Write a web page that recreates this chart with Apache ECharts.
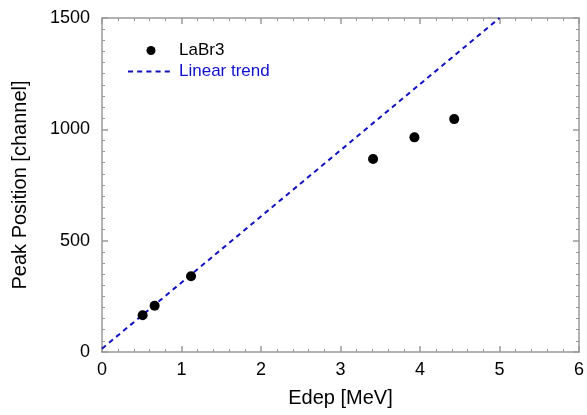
<!DOCTYPE html>
<html>
<head>
<meta charset="utf-8">
<script src="https://cdn.jsdelivr.net/npm/echarts@6/dist/echarts.min.js"></script>
<style>
  html, body { margin: 0; padding: 0; background: #fff; }
  #chart { width: 587px; height: 415px; }
</style>
</head>
<body>
<div id="chart"></div>
<script>
// measured peaks (LaBr3)
var edep = [0.511, 0.662, 1.12, 3.41, 3.93, 4.43]
var peakPos = [165, 208, 340, 867, 964, 1046]
// linear trend end points
var trendX = [0, 5]
var trendY = [15, 1500]

var axisGray = '#9a9a9a'
var font = '"Liberation Sans", Arial, sans-serif'

function frameAxis(extra) {
  var base = {
    axisLine: { show: true, onZero: false, lineStyle: { color: axisGray, width: 1.5 } },
    axisTick: { show: true, inside: true, length: 6, lineStyle: { color: axisGray, width: 1.5 } },
    splitLine: { show: false },
    minorSplitLine: { show: false }
  }
  return Object.assign(base, extra)
}

var xMinor = { show: true, splitNumber: 5, length: 3, lineStyle: { color: axisGray, width: 1 } }
var yMinor = { show: true, splitNumber: 10, length: 3, lineStyle: { color: axisGray, width: 1 } }

var chart = echarts.init(document.getElementById('chart'))
chart.setOption({
  animation: false,
  backgroundColor: '#fff',
  textStyle: { fontFamily: font },
  grid: { left: 102, right: 5, top: 18, bottom: 63 },
  legend: {
    orient: 'vertical',
    left: 127,
    top: 42,
    padding: 0,
    itemWidth: 46,
    itemHeight: 9,
    itemGap: 4,
    data: [
      { name: 'LaBr3', icon: 'circle', itemStyle: { color: '#000', opacity: 1 },
        textStyle: { color: '#000', fontSize: 17, lineHeight: 17, fontFamily: font } },
      { name: 'Linear trend', itemStyle: { opacity: 0 },
        textStyle: { color: '#1010d0', fontSize: 17, lineHeight: 17, fontFamily: font } }
    ]
  },
  xAxis: [
    frameAxis({
      type: 'value', min: 0, max: 6, interval: 1, minorTick: xMinor,
      name: 'Edep [MeV]', nameLocation: 'middle', nameGap: 36,
      nameTextStyle: { color: '#000', fontSize: 20, fontFamily: font },
      axisLabel: { color: '#000', fontSize: 18, margin: 9, fontFamily: font }
    }),
    frameAxis({
      type: 'value', min: 0, max: 6, interval: 1, position: 'top', minorTick: xMinor,
      axisLabel: { show: false }
    })
  ],
  yAxis: [
    frameAxis({
      type: 'value', min: 0, max: 1500, interval: 500, minorTick: yMinor,
      name: 'Peak Position [channel]', nameLocation: 'middle', nameGap: 72,
      nameTextStyle: { color: '#000', fontSize: 20, fontFamily: font },
      axisLabel: { color: '#000', fontSize: 18, margin: 12, fontFamily: font,
        formatter: function(v) { return String(v) } }
    }),
    frameAxis({
      type: 'value', min: 0, max: 1500, interval: 500, position: 'right', minorTick: yMinor,
      axisLabel: { show: false }
    })
  ],
  series: [
    {
      name: 'LaBr3',
      type: 'scatter',
      symbol: 'circle',
      symbolSize: 10,
      itemStyle: { color: '#000', opacity: 1 },
      data: edep.map(function(x, i) { return [x, peakPos[i]] }),
      z: 3
    },
    {
      name: 'Linear trend',
      type: 'line',
      symbol: 'none',
      clip: true,
      lineStyle: { color: '#1010c0', width: 2, type: [5, 4.2] },
      itemStyle: { color: '#1010c0' },
      data: trendX.map(function(x, i) { return [x, trendY[i]] }),
      z: 2
    }
  ]
})
</script>
</body>
</html>
